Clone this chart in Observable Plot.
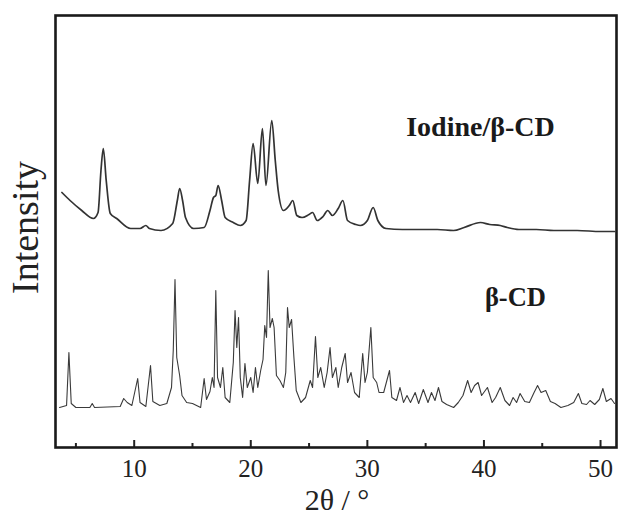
<!DOCTYPE html>
<html>
<head>
<meta charset="utf-8">
<script src="https://cdn.jsdelivr.net/npm/d3@7"></script>
<script src="https://cdn.jsdelivr.net/npm/@observablehq/plot@0.6"></script>
<style>
  html, body { margin: 0; padding: 0; background: #fff; overflow: hidden; }
  #chart { width: 618px; height: 520px; }
</style>
</head>
<body>
<div id="chart"></div>
<script>
// ---- Data (intensity in arbitrary units) ----
const seriesNames = ["Iodine/β-CD", "β-CD"];

const iodineX = [3.8,4.5,5.5,6.5,6.9,7.15,7.35,7.6,7.95,8.5,9.7,10.5,11.0,11.3,12.3,13.3,13.7,13.9,14.15,14.4,15.1,16.0,16.5,16.8,17.0,17.2,17.5,17.8,18.5,19.1,19.6,19.9,20.2,20.6,21.0,21.3,21.8,22.1,22.35,22.8,23.3,23.6,23.95,24.4,25.0,25.3,25.7,26.2,26.6,27.0,27.5,27.9,28.3,29.0,29.4,30.0,30.5,30.9,31.6,33,34.5,36,37.4,38.3,39.7,40.5,41.4,42.0,43,44.5,46,48,50,51.2];
const iodineY = [255,247,237,229,235,277,299,267,234,229,219,219,222,219,217,224,247,259,247,230,219,220,237,250,252,262,247,230,225,222,227,267,304,264,319,262,327,287,257,237,242,247,232,230,233,235,227,231,237,232,239,247,227,223,222,227,240,227,219,218,218,218,217,220,225,223,222,220,218,218,217,217,216,216];

const cdX = [3.6,4.2,4.4,4.6,5.0,6.2,6.4,6.6,8.8,9.1,9.4,9.8,10.3,10.5,11.0,11.4,11.6,12.2,12.8,13.2,13.35,13.5,13.65,13.9,14.1,14.5,15.0,15.7,16.0,16.2,16.5,16.7,16.85,17.0,17.15,17.4,17.6,17.8,18.2,18.5,18.65,18.8,18.95,19.1,19.3,19.5,19.7,20.0,20.2,20.4,20.6,20.85,21.05,21.2,21.35,21.5,21.65,21.85,22.0,22.2,22.5,22.8,23.0,23.15,23.3,23.5,23.7,23.9,24.3,24.7,25.1,25.3,25.55,25.75,26.0,26.3,26.55,26.8,27.0,27.3,27.5,27.8,28.1,28.3,28.6,28.9,29.3,29.6,29.8,30.0,30.3,30.5,30.8,31.0,31.4,31.9,32.1,32.5,32.8,33.1,33.4,33.7,34.1,34.4,34.8,35.2,35.5,35.8,36.1,36.4,36.8,37.4,37.8,38.2,38.6,38.9,39.2,39.5,39.8,40.3,40.7,41.0,41.4,41.8,42.2,42.5,42.8,43.1,43.5,43.9,44.3,44.6,44.9,45.3,45.7,46.1,46.6,47.2,47.7,48.1,48.4,48.8,49.1,49.5,49.9,50.2,50.5,50.9,51.2];
const cdY = [40,42,95,44,40,40,44,40,41,49,45,42,69,45,41,82,46,42,44,60,97,168,90,72,52,45,44,40,69,48,56,70,60,157,70,60,80,50,45,85,137,100,130,70,50,84,60,70,55,80,60,77,88,122,110,177,120,129,120,72,67,60,75,140,120,128,90,57,45,50,67,60,111,70,80,60,75,100,70,80,60,80,94,65,75,55,50,94,65,75,120,70,65,55,55,77,50,47,60,45,52,45,55,44,58,45,55,47,60,46,43,40,45,52,67,55,62,65,52,60,45,50,60,47,42,50,45,54,46,45,55,62,55,57,46,44,40,42,45,54,44,43,47,43,48,59,46,49,44];

const majorTicks = [10, 20, 30, 40, 50];
const minorTicks = [5, 15, 25, 35, 45];
const xLabel = "2θ / °";
const yLabel = "Intensity";

const iodine = iodineX.map((x, i) => ({x, y: iodineY[i]}));
const cd = cdX.map((x, i) => ({x, y: cdY[i]}));

const chart = Plot.plot({
  width: 618,
  height: 520,
  marginLeft: 55,
  marginRight: 2,
  marginTop: 15,
  marginBottom: 73,
  x: {domain: [3.25, 51.37]},
  y: {domain: [0, 432], axis: null},
  style: {fontFamily: "'Liberation Serif', 'DejaVu Serif', serif", background: "#fff", color: "#222"},
  marks: [
    Plot.line(iodine, {x: "x", y: "y", stroke: "#333", strokeWidth: 1.7, curve: "monotone-x"}),
    Plot.line(cd, {x: "x", y: "y", stroke: "#3a3a3a", strokeWidth: 1.1}),
    Plot.tickX(majorTicks, {x: d => d, insetTop: 425, stroke: "#222", strokeWidth: 2}),
    Plot.tickX(minorTicks, {x: d => d, insetTop: 428, stroke: "#222", strokeWidth: 2}),
    Plot.axisX({ticks: majorTicks, tickSize: 0, tickPadding: 12, fontSize: 25, label: null, fill: "#222"}),
    Plot.frame({stroke: "#1a1a1a", strokeWidth: 2.6}),
    Plot.text([xLabel], {frameAnchor: "bottom", textAnchor: "middle", lineAnchor: "middle", dx: 1, dy: 53, fontSize: 30, fill: "#222"}),
    Plot.text([yLabel], {frameAnchor: "left", textAnchor: "middle", rotate: -90, dx: -30, dy: -4, fontSize: 38, fill: "#222"}),
    Plot.text([seriesNames[0]], {x: 39.7, y: 320, fontSize: 28, fontWeight: "bold", fill: "#1a1a1a"}),
    Plot.text([seriesNames[1]], {x: 42.7, y: 150, fontSize: 26.5, fontWeight: "bold", fill: "#1a1a1a"})
  ]
});
document.getElementById("chart").appendChild(chart);
</script>
</body>
</html>
